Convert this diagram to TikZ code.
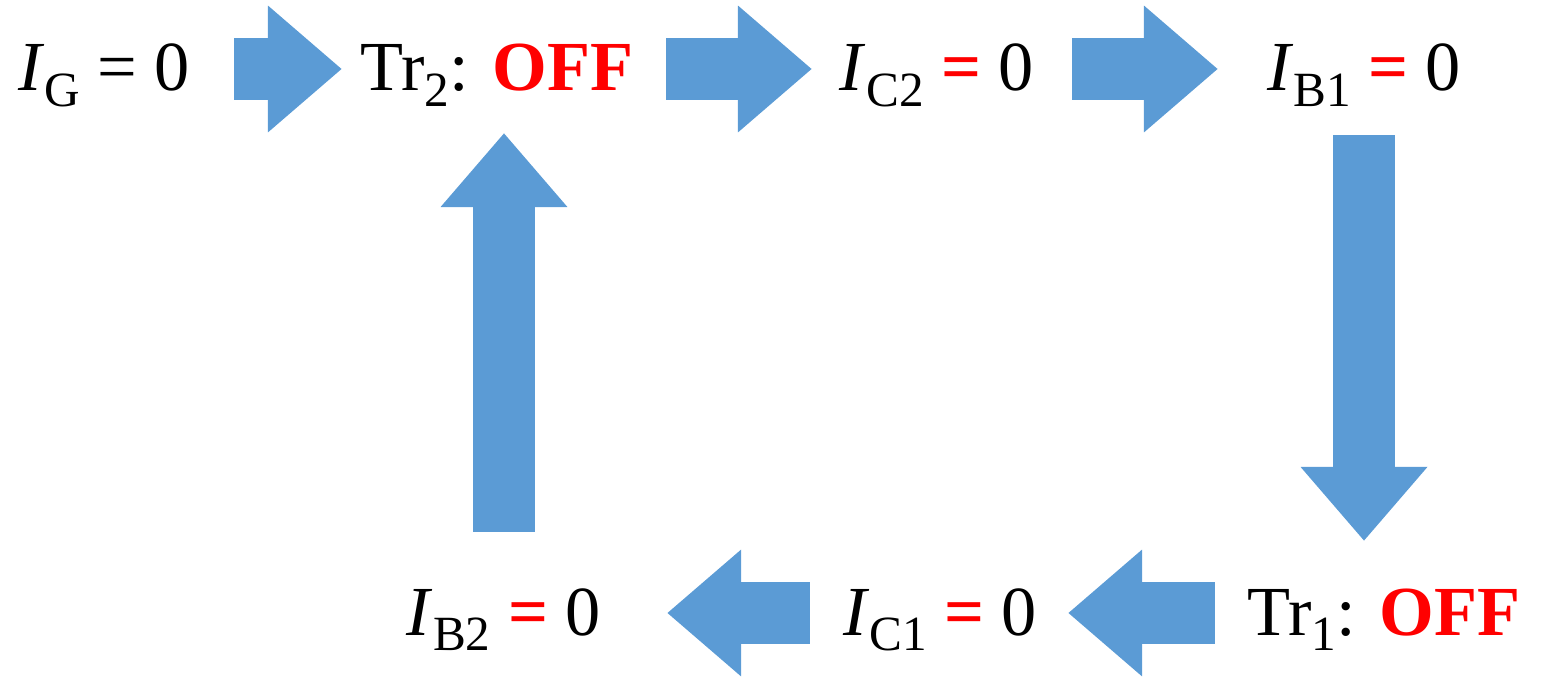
\documentclass[tikz,border=0pt]{standalone}
\usepackage{fontspec}
\setmainfont{Liberation Serif}
\usetikzlibrary{arrows.meta, positioning}
\definecolor{flowblue}{RGB}{91,155,213}
\newcommand{\cur}[1]{\textit{I}\raisebox{-4.5pt}{\fontsize{14}{16}\selectfont #1}}
\newcommand{\trsub}[1]{Tr\raisebox{-4.5pt}{\fontsize{14}{16}\selectfont #1}}
\newcommand{\req}{\textcolor{red}{\textbf{=}}}
\newcommand{\off}{\textcolor{red}{\textbf{OFF}}}
\tikzset{
    txt/.style={inner sep=0pt, anchor=base, text height=0.62cm, text depth=0.18cm, font=\fontsize{20}{24}\selectfont},
    flow/.style={-{Triangle[width=1.22cm, length=0.74cm]}, line width=0.62cm, flowblue}
}
\begin{document}
\begin{tikzpicture}[x=0.01cm, y=-0.01cm]
        \useasboundingbox (0,0) rectangle (1546,679);
        \node [txt] (ig) at (104,91) {\cur{G} = 0};
        \node [txt] (tr2) at (497,91) {\trsub{2}: \off};
        \node [txt] (ic2) at (937,91) {\cur{C2} \req{} 0};
        \node [txt] (ib1) at (1364,91) {\cur{B1} \req{} 0};
        \node [txt] (tr1) at (1384,635) {\trsub{1}: \off};
        \node [txt] (ic1) at (940,635) {\cur{C1} \req{} 0};
        \node [txt] (ib2) at (504,635) {\cur{B2} \req{} 0};
        \draw [flow, shorten <=1.30cm, shorten >=1.55cm] (ig.center) -- (tr2.center);
        \draw [flow, shorten <=1.69cm, shorten >=1.25cm] (tr2.center) -- (ic2.center);
        \draw [flow, shorten <=1.35cm, shorten >=1.46cm] (ic2.center) -- (ib1.center);
        \draw [flow, shorten <=0.66cm, shorten >=0.72cm] (ib1.center) -- (ib1.center |- tr1.center);
        \draw [flow, shorten <=1.69cm, shorten >=1.28cm] (tr1.center) -- (ic1.center);
        \draw [flow, shorten <=1.30cm, shorten >=1.63cm] (ic1.center) -- (ib2.center);
        \draw [flow, shorten <=0.81cm, shorten >=0.64cm] (ib2.center) -- (ib2.center |- tr2.center);
    \end{tikzpicture}
\end{document}
